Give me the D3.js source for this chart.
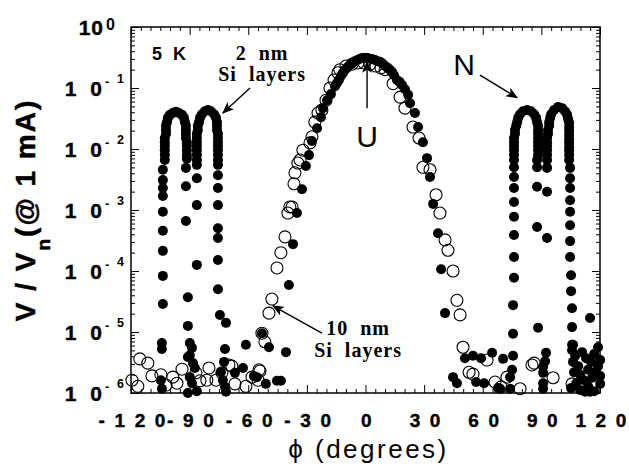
<!DOCTYPE html>
<html>
<head>
<meta charset="utf-8">
<script src="https://cdn.jsdelivr.net/npm/d3@7"></script>
<style>
  body { margin: 0; background: #fff; }
</style>
</head>
<body>
<div id="chart"></div>
<script>
// points are [phi (degrees), log10(V / Vn)]

// 2 nm Si layers, filled circles
var filledLeftM = [
  [-102.7,-2.18],[-102.7,-2.10],[-102.7,-2.02],[-102.7,-1.95],[-102.7,-1.89],[-102.7,-1.82],
  [-102.1,-1.75],[-102.1,-1.69],[-102.1,-1.62],[-101.6,-1.56],[-101.1,-1.49],[-100.1,-1.44],
  [-98.6,-1.41],[-97.0,-1.39],[-95.5,-1.41],[-93.9,-1.44],[-92.9,-1.49],[-92.4,-1.56],
  [-91.9,-1.62],[-91.9,-1.69],[-91.9,-1.75],[-91.9,-1.82],[-91.4,-1.89],[-91.4,-1.95],
  [-91.4,-2.02],[-91.4,-2.10],[-91.4,-2.16],
  [-86.3,-2.18],[-86.3,-2.10],[-86.3,-2.02],[-86.3,-1.95],[-86.3,-1.89],[-86.3,-1.82],
  [-86.3,-1.75],[-85.8,-1.69],[-85.8,-1.62],[-85.2,-1.56],[-84.7,-1.49],[-83.7,-1.43],
  [-82.2,-1.38],[-80.6,-1.36],[-79.1,-1.38],[-77.5,-1.43],[-76.5,-1.49],[-76.0,-1.56],
  [-76.0,-1.62],[-76.0,-1.69],[-75.5,-1.75],[-75.5,-1.82],[-75.5,-1.89],[-75.5,-1.95],
  [-75.5,-2.02],[-75.5,-2.10],[-75.5,-2.18]
];
var filledLeftTails = [
  [-103.7,-2.34],[-103.7,-2.51],[-103.7,-2.64],[-103.7,-2.77],[-103.7,-3.03],[-103.7,-3.34],
  [-103.7,-3.67],[-103.7,-4.08],[-103.7,-4.54],[-104.2,-5.18],[-104.2,-5.28],[-104.7,-5.79],[-104.2,-5.93],
  [-91.9,-2.31],[-91.9,-2.61],[-91.9,-3.18],[-90.9,-4.43],[-90.9,-4.90],
  [-89.9,-5.18],[-88.8,-5.26],[-89.9,-5.38],[-90.9,-5.41],[-88.3,-5.51],[-87.3,-5.59],
  [-89.9,-5.74],[-88.8,-5.84],[-90.9,-6.00],[-86.3,-5.97],
  [-86.3,-2.26],[-86.3,-2.48],[-86.3,-2.92],[-86.3,-3.90],
  [-75.5,-2.26],[-75.5,-2.43],[-75.5,-2.64],[-75.5,-2.92],[-75.5,-3.30],[-75.5,-3.46],
  [-75.5,-3.82],[-75.5,-4.30],[-74.5,-4.72],[-71.4,-4.85],
  [-71.9,-5.28],[-72.4,-5.49],[-74.0,-5.66],[-73.0,-5.79],[-71.9,-5.90],[-71.4,-5.98],
  [-66.8,-5.67],[-62.7,-5.59],[-61.2,-5.21],[-57.1,-5.72]
];
var filledCenter = [
  [-53.0,-5.02],[-49.4,-5.25],[-40.7,-5.33],[-55.6,-5.74],[-51.0,-5.85],[-45.3,-5.80],[-43.3,-5.80],
  [-39.2,-4.23],[-37.1,-3.56],[-35.1,-3.05],[-32.5,-2.66],[-30.5,-2.28],[-28.9,-2.10],[-27.4,-1.87],
  [-24.8,-1.66],[-22.8,-1.48],[-21.8,-1.33],[-19.7,-1.20],[-17.7,-1.10],[-15.6,-0.97],[-14.6,-0.92],
  [-13.6,-0.87],[-12.5,-0.80],[-11.5,-0.75],[-10.5,-0.70],[-9.5,-0.67],[-8.5,-0.64],[-7.4,-0.61],
  [-6.4,-0.58],[-5.4,-0.56],[-4.1,-0.54],[-2.8,-0.52],[-1.5,-0.51],[-0.3,-0.51],[1.0,-0.51],
  [2.3,-0.52],[3.6,-0.53],[4.9,-0.54],[6.1,-0.56],[7.4,-0.57],[8.7,-0.60],[10.0,-0.64],[11.3,-0.67],
  [12.5,-0.70],[13.6,-0.74],[14.6,-0.79],[16.1,-0.87],[17.4,-0.90],[18.7,-0.95],[20.2,-1.02],
  [21.8,-1.11],[22.8,-1.25],[25.3,-1.41],[26.9,-1.64],[29.4,-1.89],[31.5,-2.15],[33.0,-2.46],
  [34.6,-2.90],[37.1,-3.38],[38.7,-3.97],[40.7,-4.69]
];
var filledRightM = [
  [76.0,-2.18],[76.0,-2.10],[76.0,-2.02],[76.0,-1.95],[76.0,-1.89],[76.0,-1.82],
  [76.5,-1.75],[76.5,-1.69],[77.1,-1.62],[77.6,-1.56],[78.1,-1.49],[79.1,-1.43],
  [80.6,-1.38],[82.7,-1.36],[84.7,-1.38],[86.3,-1.43],[87.3,-1.49],[87.8,-1.56],
  [88.3,-1.62],[88.3,-1.69],[88.3,-1.75],[88.3,-1.82],[88.3,-1.89],[88.3,-1.95],
  [88.3,-2.02],[88.3,-2.10],[87.8,-2.18],
  [92.9,-2.18],[92.9,-2.10],[92.9,-2.02],[92.9,-1.95],[92.9,-1.89],[92.9,-1.82],
  [93.4,-1.75],[93.4,-1.69],[94.0,-1.62],[94.0,-1.56],[94.5,-1.49],[95.0,-1.43],
  [96.5,-1.36],[98.6,-1.31],[100.6,-1.33],[102.1,-1.38],[103.2,-1.44],[103.7,-1.51],
  [104.2,-1.57],[104.2,-1.64],[104.2,-1.70],[104.2,-1.77],[104.2,-1.84],[104.2,-1.90],
  [104.2,-1.97],[104.2,-2.03],[104.2,-2.10],[104.2,-2.18]
];
var filledRightTails = [
  [76.0,-2.30],[76.0,-2.46],[76.0,-2.64],[76.0,-2.87],[76.0,-3.11],[76.0,-3.41],
  [76.0,-3.77],[76.0,-4.11],[75.5,-4.56],[75.5,-5.03],
  [87.8,-2.30],[87.8,-2.62],[87.8,-3.28],[88.3,-4.93],
  [92.9,-2.31],[92.9,-2.70],[92.9,-3.46],
  [104.7,-2.31],[104.7,-2.48],[104.7,-2.64],[104.7,-2.84],[104.7,-3.03],[104.7,-3.25],
  [104.7,-3.51],[104.7,-3.77],[105.2,-4.07],[105.2,-4.33],[105.7,-4.61],[105.7,-4.92],[105.7,-5.21]
];
var filledRightFloor = [
  [44.8,-5.74],[46.8,-5.84],[50.9,-5.43],[55.0,-5.39],[59.1,-5.43],[56.6,-5.82],[60.7,-5.84],
  [64.8,-5.34],[67.8,-5.92],[70.4,-5.44],[75.5,-5.39],[75.0,-5.62],[74.0,-5.74],[74.0,-5.93],[68.9,-5.93],
  [92.4,-5.34],[91.9,-5.48],[90.9,-5.57],[90.9,-5.67],[90.9,-5.84],[90.9,-5.93],
  [114.9,-4.77],[119.0,-5.25],
  [105.7,-5.30],[107.3,-5.39],[106.2,-5.49],[108.8,-5.56],[106.7,-5.66],[109.8,-5.70],
  [111.8,-5.79],[107.8,-5.84],[105.2,-5.92],[109.8,-5.95],[113.9,-5.89],[116.0,-5.75],
  [117.5,-5.66],[119.0,-5.56],[115.4,-5.49],[112.9,-5.43],[117.0,-5.36],[120.1,-5.46],
  [120.1,-5.85],[117.0,-5.97],[114.9,-5.98],[112.4,-5.98],[120.1,-5.72],[113.9,-5.62],
  [110.8,-5.33],[106.2,-5.21]
];

// 10 nm Si layers, open circles
var openCenter = [
  [-13.1,-0.70],[-10.0,-0.64],[-6.9,-0.61],[-3.8,-0.59],[-0.8,-0.59],[2.3,-0.61],[5.4,-0.64],[7.9,-0.67],
  [-14.1,-0.75],[-16.1,-0.87],[-18.2,-1.00],[-20.2,-1.20],[-22.3,-1.36],[-24.3,-1.41],[-25.9,-1.56],
  [-27.4,-1.80],[-28.4,-1.90],[-32.0,-2.02],[-33.5,-2.18],[-34.6,-2.23],[-36.1,-2.39],[-36.6,-2.57],
  [-38.7,-2.95],[-39.7,-3.05],[-37.6,-2.95],[-41.2,-3.44],[-43.3,-3.70],[-45.3,-3.95],[-47.9,-4.46],
  [-49.4,-4.69],[-53.0,-5.02],[-51.5,-5.16],[-54.5,-5.62],[-55.0,-5.79],
  [10.0,-0.70],[14.1,-0.93],[17.7,-1.15],[20.2,-1.33],[24.3,-1.64],[27.4,-1.82],[29.4,-2.30],
  [33.0,-2.34],[36.1,-2.75],[38.1,-3.05],[40.7,-3.49],[42.2,-3.66],[44.8,-4.00],[46.8,-4.48],
  [48.4,-4.72],[49.9,-5.25],[53.0,-5.66],[55.0,-5.69]
];
var openFloor = [
  [-119.5,-5.79],[-116.5,-5.89],[-115.5,-5.44],[-111.4,-5.51],[-109.3,-5.72],[-104.7,-5.70],
  [-102.1,-5.87],[-98.6,-5.74],[-96.5,-5.84],[-93.9,-5.61],[-86.8,-5.67],[-84.7,-5.80],
  [-81.2,-5.79],[-80.1,-5.59],[-76.5,-5.79],[-73.5,-5.67],[-69.9,-5.54],[-68.4,-5.56],
  [-66.8,-5.85],[-61.2,-5.89],[-58.1,-5.74],[-54.0,-5.64],
  [62.2,-5.46],[66.3,-5.82],[69.4,-5.90],[72.4,-5.74],[79.1,-5.93],[85.2,-5.54],[86.3,-5.51],
  [96.0,-5.75],[105.7,-5.85]
];

var xMajor = d3.range(-120, 121, 30);
var xMinor = d3.range(-120, 121, 5).filter(function (v) { return v % 30 !== 0; });
var yExps = [0, -1, -2, -3, -4, -5, -6];

var width = 629, height = 468;
var sans = "'Liberation Sans', Arial, Helvetica, sans-serif";
var serif = "'Liberation Serif', 'Times New Roman', serif";

var svg = d3.select("#chart").append("svg")
    .attr("width", width)
    .attr("height", height);

var x = d3.scaleLinear().domain([-120, 120]).range([131, 600]);
var y = d3.scaleLog().domain([1e-6, 1]).range([393, 27]);
function yv(e) { return y(Math.pow(10, e)); }

var yMajor = yExps.map(function (e) { return Math.pow(10, e); });
var yMinor = [];
d3.range(-6, 0).forEach(function (e) {
    d3.range(2, 10).forEach(function (k) { yMinor.push(k * Math.pow(10, e)); });
});

// ticks, all pointing inward
function ticks(axis, tx, ty) {
    svg.append("g")
        .attr("transform", "translate(" + tx + "," + ty + ")")
        .call(axis)
        .call(function (g) { g.select(".domain").remove(); })
        .selectAll("line").attr("stroke", "#000").attr("stroke-width", 1);
}
ticks(d3.axisTop(x).tickValues(xMinor).tickSize(4).tickFormat(""), 0, 393);
ticks(d3.axisTop(x).tickValues(xMajor).tickSize(8).tickFormat(""), 0, 393);
ticks(d3.axisBottom(x).tickValues(xMinor).tickSize(4).tickFormat(""), 0, 27);
ticks(d3.axisBottom(x).tickValues(xMajor).tickSize(8).tickFormat(""), 0, 27);
ticks(d3.axisRight(y).tickValues(yMinor).tickSize(4).tickFormat(""), 131, 0);
ticks(d3.axisRight(y).tickValues(yMajor).tickSize(8).tickFormat(""), 131, 0);
ticks(d3.axisLeft(y).tickValues(yMinor).tickSize(4).tickFormat(""), 600, 0);
ticks(d3.axisLeft(y).tickValues(yMajor).tickSize(8).tickFormat(""), 600, 0);

// frame
svg.append("rect")
    .attr("x", x(-120)).attr("y", y(1))
    .attr("width", x(120) - x(-120)).attr("height", y(1e-6) - y(1))
    .attr("fill", "none").attr("stroke", "#000").attr("stroke-width", 1.5);

// x tick labels, spaced out like the original
svg.append("g")
    .attr("transform", "translate(1.5,393)")
    .call(d3.axisBottom(x).tickValues(xMajor).tickSize(0).tickPadding(21)
        .tickFormat(function (d) { return String(d).split("").join(" "); }))
    .call(function (g) { g.select(".domain").remove(); })
    .selectAll("text")
    .attr("font-family", sans).attr("font-size", 19).attr("font-weight", "bold")
    .attr("letter-spacing", 2.2).attr("fill", "#000")
    .attr("stroke", "#000").attr("stroke-width", 0.4);

// y tick labels: 10 with a raised exponent
var yl = svg.append("g").attr("font-family", sans).attr("font-weight", "bold").attr("fill", "#000");
yExps.forEach(function (e) {
    var ty = yv(e);
    yl.append("text")
        .attr("x", e === 0 ? 104 : 106).attr("y", ty + 8)
        .attr("text-anchor", "end").attr("font-size", 21)
        .attr("letter-spacing", e === 0 ? 1 : 4)
        .attr("stroke", "#000").attr("stroke-width", 0.4)
        .text(e === 0 ? "10" : "1 0");
    if (e === 0) {
        yl.append("text").attr("x", 106).attr("y", ty + 3).attr("font-size", 16).text("0");
    } else {
        yl.append("text").attr("x", 105).attr("y", ty - 2).attr("font-size", 13).text("-");
        yl.append("text").attr("x", 117).attr("y", ty - 5).attr("font-size", 12.5).text(String(-e));
    }
});

// axis titles
var ylab = svg.append("text")
    .attr("transform", "translate(35," + ((y(1) + y(1e-6)) / 2) + ") rotate(-90)")
    .attr("text-anchor", "middle")
    .attr("font-family", sans).attr("font-weight", "bold")
    .attr("font-size", 28).attr("letter-spacing", 2)
    .attr("stroke", "#000").attr("stroke-width", 0.5);
ylab.append("tspan").text("V / V");
ylab.append("tspan").attr("font-size", 19).attr("dy", 15).text("n");
ylab.append("tspan").attr("dy", -15).text("(@ 1 mA)");

svg.append("text")
    .attr("x", x(0) + 3).attr("y", 458)
    .attr("text-anchor", "middle")
    .attr("font-family", sans).attr("font-size", 26).attr("letter-spacing", 2.5)
    .text("\u03d5 (degrees)");

// markers: open circles under, filled on top
var openPts = openCenter.concat(openFloor);
svg.append("g").selectAll("circle")
    .data(openPts)
    .enter().append("circle")
    .attr("cx", function (d) { return x(d[0]); })
    .attr("cy", function (d) { return yv(d[1]); })
    .attr("r", 6)
    .attr("fill", "none")
    .attr("stroke", "#000")
    .attr("stroke-width", 1.1);

var filledPts = filledLeftM.concat(filledLeftTails, filledCenter, filledRightM, filledRightTails, filledRightFloor);
svg.append("g").selectAll("circle")
    .data(filledPts)
    .enter().append("circle")
    .attr("cx", function (d) { return x(d[0]); })
    .attr("cy", function (d) { return yv(d[1]); })
    .attr("r", 5)
    .attr("fill", "#000");

// annotations
svg.append("defs").append("marker")
    .attr("id", "head")
    .attr("viewBox", "0 0 12 10")
    .attr("refX", 11).attr("refY", 5)
    .attr("markerWidth", 12).attr("markerHeight", 10)
    .attr("markerUnits", "userSpaceOnUse")
    .attr("orient", "auto")
    .append("path")
    .attr("d", "M0,0 L12,5 L0,10 L3,5 Z")
    .attr("fill", "#000");

function arrow(p0, p1) {
    svg.append("line")
        .attr("x1", x(p0[0])).attr("y1", yv(p0[1]))
        .attr("x2", x(p1[0])).attr("y2", yv(p1[1]))
        .attr("stroke", "#000").attr("stroke-width", 1.4)
        .attr("marker-end", "url(#head)");
}
function label(p, txt, font, size, weight, anchor, ls) {
    svg.append("text")
        .attr("x", x(p[0])).attr("y", yv(p[1]))
        .attr("text-anchor", anchor)
        .attr("font-family", font).attr("font-size", size).attr("font-weight", weight)
        .attr("letter-spacing", ls)
        .style("white-space", "pre")
        .text(txt);
}

label([-109.3, -0.54], "5 K", sans, 18, "bold", "start", 3);
label([-52.9, -0.54], "2  nm", serif, 20, "bold", "middle", 1);
label([-52.9, -0.89], "Si  layers", serif, 20, "bold", "middle", 1);
arrow([-59.1, -1.00], [-73.0, -1.41]);

label([0.8, -1.97], "U", sans, 30, "normal", "middle", 0);
arrow([0.8, -1.33], [0.8, -0.57]);

label([50.4, -0.79], "N", sans, 30, "normal", "middle", 0);
arrow([58.6, -0.79], [77.6, -1.16]);

label([-3.8, -5.05], "10  nm", serif, 20, "bold", "middle", 1);
label([-3.8, -5.41], "Si  layers", serif, 20, "bold", "middle", 1);
arrow([-22.3, -5.02], [-47.4, -4.57]);
</script>
</body>
</html>
